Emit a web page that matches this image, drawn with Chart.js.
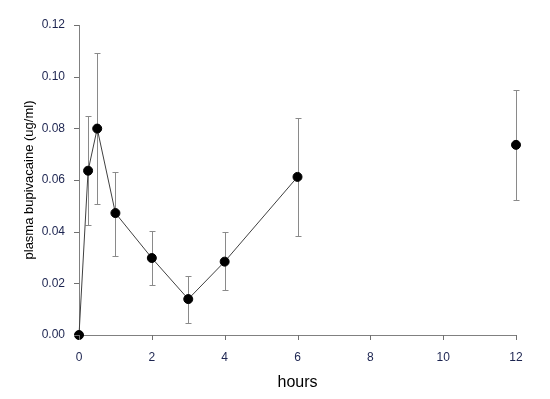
<!DOCTYPE html>
<html lang="en">
<head>
<meta charset="UTF-8">
<title>Plasma bupivacaine</title>
<style>
  html, body { margin: 0; padding: 0; background: #fff; overflow: hidden; }
  canvas { display: block; }
</style>
</head>
<body>
<canvas id="bupiChart" width="550" height="399"></canvas>
<script src="https://cdn.jsdelivr.net/npm/chart.js"></script>
<script>
  // data
  const hours = [0, 0.25, 0.5, 1, 2, 3, 4, 6, 12];
  const meanConc = [0, 0.0636, 0.0799, 0.0472, 0.0298, 0.0139, 0.0284, 0.0612, 0.0736];
  const upperConc = [0, 0.0846, 0.1091, 0.0632, 0.0404, 0.0229, 0.0399, 0.0841, 0.0950];
  const lowerConc = [0, 0.0426, 0.0507, 0.0305, 0.0193, 0.0047, 0.0174, 0.0383, 0.0522];
  const yTicks = [0, 0.02, 0.04, 0.06, 0.08, 0.10, 0.12];
  const xTicks = [0, 2, 4, 6, 8, 10, 12];

  const points = hours.map((h, i) => ({ x: h, y: meanConc[i] }));

  // whiskers drawn behind the points
  const errorBars = {
    id: 'errorBars',
    beforeDatasetsDraw(chart) {
      const { ctx, scales: { x, y } } = chart;
      ctx.save();
      ctx.strokeStyle = '#8a8a8a';
      ctx.lineWidth = 1;
      hours.forEach((h, i) => {
        if (upperConc[i] === lowerConc[i]) return;
        const px = Math.round(x.getPixelForValue(h)) + 0.5;
        const top = Math.round(y.getPixelForValue(upperConc[i])) + 0.5;
        const bot = Math.round(y.getPixelForValue(lowerConc[i])) + 0.5;
        ctx.beginPath();
        ctx.moveTo(px, top); ctx.lineTo(px, bot);
        ctx.moveTo(px - 3, top); ctx.lineTo(px + 3, top);
        ctx.moveTo(px - 3, bot); ctx.lineTo(px + 3, bot);
        ctx.stroke();
      });
      ctx.restore();
    }
  };

  // short outward tick marks on both axes
  const tickMarks = {
    id: 'tickMarks',
    afterDraw(chart) {
      const { ctx, chartArea: a, scales: { x, y } } = chart;
      ctx.save();
      ctx.strokeStyle = '#707070';
      ctx.lineWidth = 1;
      ctx.beginPath();
      yTicks.forEach(v => {
        const py = Math.round(y.getPixelForValue(v)) + 0.5;
        ctx.moveTo(a.left - 5, py); ctx.lineTo(a.left, py);
      });
      xTicks.forEach(v => {
        const px = Math.round(x.getPixelForValue(v)) + 0.5;
        ctx.moveTo(px, a.bottom); ctx.lineTo(px, a.bottom + 5);
      });
      ctx.stroke();
      ctx.restore();
    }
  };

  const tickFont = { family: 'Arial, "Liberation Sans", sans-serif', size: 12 };

  new Chart(document.getElementById('bupiChart'), {
    type: 'scatter',
    data: {
      datasets: [{
        data: points,
        showLine: true,
        borderColor: '#404040',
        borderWidth: 1,
        pointBackgroundColor: '#000',
        pointBorderColor: '#000',
        pointRadius: 4.5,
        clip: false,
        segment: {
          // last point (12 h) stands alone
          borderColor: c => c.p1DataIndex === hours.length - 1 ? 'transparent' : '#404040'
        }
      }]
    },
    options: {
      responsive: false,
      animation: false,
      devicePixelRatio: 1,
      layout: { padding: { top: 25, right: 34, left: 0, bottom: 0 } },
      plugins: { legend: { display: false }, tooltip: { enabled: false } },
      scales: {
        x: {
          type: 'linear',
          min: 0, max: 12,
          afterBuildTicks: s => { s.ticks = xTicks.map(v => ({ value: v })); },
          afterFit: s => { s.height = 64; },
          grid: { display: false, tickLength: 5 },
          border: { display: true, color: '#808080', width: 1 },
          ticks: { color: '#1c2450', font: tickFont, padding: 10, maxRotation: 0, autoSkip: false },
          title: {
            display: true, text: 'hours', color: '#000',
            font: { family: 'Arial, "Liberation Sans", sans-serif', size: 16 },
            padding: { top: 8, bottom: 7 }
          }
        },
        y: {
          min: 0, max: 0.12,
          afterBuildTicks: s => { s.ticks = yTicks.map(v => ({ value: v })); },
          afterFit: s => { s.width = 79; },
          grid: { display: false, tickLength: 5 },
          border: { display: true, color: '#808080', width: 1 },
          ticks: {
            color: '#1c2450', font: tickFont, padding: 9, autoSkip: false,
            callback: v => v.toFixed(2)
          },
          title: {
            display: true, text: 'plasma bupivacaine (ug/ml)', color: '#000',
            font: { family: 'Arial, "Liberation Sans", sans-serif', size: 13 },
            padding: { top: 22, bottom: 6 }
          }
        }
      }
    },
    plugins: [errorBars, tickMarks]
  });
</script>
</body>
</html>
